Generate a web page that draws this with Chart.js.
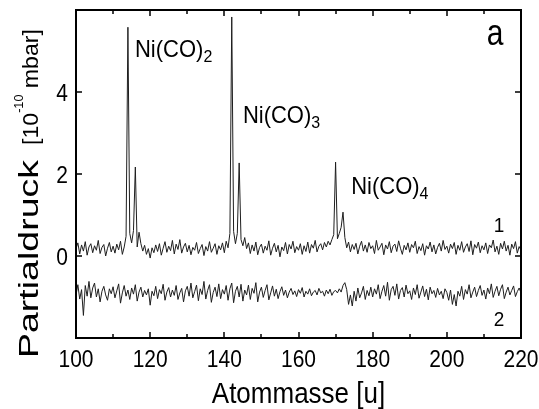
<!DOCTYPE html>
<html>
<head>
<meta charset="utf-8">
<script src="https://cdn.jsdelivr.net/npm/chart.js@4.4.1/dist/chart.umd.min.js"></script>
<style>
  html, body { margin: 0; padding: 0; background: #fff; }
  #wrap { width: 539px; height: 409px; position: relative; }
</style>
</head>
<body>
<div id="wrap"><canvas id="chart"></canvas></div>
<script>
"use strict";

// ── Data ─────────────────────────────────────────────────────────────────────
// Mass spectra, sampled every 0.5 u from 100 to 220 u. Values in 1e-10 mbar.
const MASS_START = 100;
const MASS_STEP = 0.5;

// trace 1: with Ni(CO)x peaks
const SERIES_1 = [
  0.18,0.32,0.05,0.27,0.12,0.35,0.02,0.22,0.30,0.08,0.25,0.14,0.38,0.06,0.21,0.28,0.00,0.19,0.33,0.10,
  0.24,0.07,0.29,0.15,0.36,0.04,0.22,0.48,5.58,0.55,0.32,0.62,2.17,0.22,0.58,0.30,0.12,0.26,0.04,0.18,
  -0.05,0.20,0.08,0.27,0.11,0.30,0.02,0.19,0.35,0.09,0.24,0.13,0.38,0.05,0.29,0.16,0.40,0.07,0.22,0.31,
  0.10,0.26,0.03,0.21,0.14,0.33,0.06,0.18,0.28,0.01,0.23,0.12,0.35,0.09,0.19,0.30,0.04,0.25,0.15,0.32,
  0.08,0.36,0.20,0.55,5.83,0.60,0.30,0.55,2.27,0.40,0.25,0.45,0.18,0.32,0.06,0.27,0.12,0.34,0.03,0.21,
  0.29,0.07,0.24,0.14,0.37,0.02,0.19,0.31,0.10,0.26,-0.02,0.22,0.13,0.33,0.05,0.28,0.17,0.36,0.08,0.23,
  0.14,0.30,0.04,0.25,0.11,0.34,0.07,0.28,0.19,0.38,0.10,0.24,0.30,0.15,0.33,0.22,0.36,0.27,0.40,0.52,
  2.29,0.42,0.55,0.70,1.07,0.45,0.20,0.34,0.10,0.28,0.16,0.31,0.05,0.24,0.36,0.12,0.27,0.09,0.33,0.18,
  0.25,0.06,0.38,0.14,0.22,0.31,0.03,0.27,0.17,0.35,0.08,0.24,0.29,0.11,0.37,0.19,0.04,0.26,0.15,0.32,
  0.09,0.28,0.20,0.36,0.06,0.23,0.13,0.30,0.02,0.25,0.17,0.34,0.10,0.27,0.05,0.21,0.31,0.12,0.38,0.16,
  0.24,0.07,0.29,0.18,0.33,0.04,0.26,0.14,0.35,0.09,0.22,0.30,0.11,0.37,0.03,0.28,0.19,0.34,0.08,0.25,
  0.15,0.32,0.06,0.27,0.20,0.39,0.10,0.24,0.04,0.31,0.17,0.36,0.12,0.26,0.02,0.29,0.18,0.35,0.07,0.23,
  0.14
];

// trace 2: background
const SERIES_2 = [
  -0.95,-0.70,-1.05,-0.82,-1.45,-0.72,-0.98,-0.62,-1.02,-0.78,-0.66,-1.00,-0.80,-1.12,-0.86,-0.74,-0.95,-1.08,-0.80,-0.92,
  -0.75,-1.02,-0.85,-0.68,-1.15,-0.90,-0.72,-0.98,-0.83,-1.06,-0.78,-0.93,-0.70,-1.10,-0.88,-0.76,-1.00,-0.84,-0.95,-0.80,
  -1.20,-0.86,-0.97,-0.74,-1.04,-0.82,-0.92,-0.69,-1.08,-0.88,-0.77,-1.00,-0.83,-0.96,-0.72,-1.06,-0.90,-0.79,-1.12,-0.85,
  -0.74,-0.98,-0.66,-1.02,-0.87,-0.71,-1.09,-0.80,-0.94,-0.62,-1.05,-0.84,-0.70,-1.13,-0.89,-0.76,-0.99,-0.68,-1.04,-0.82,
  -0.93,-0.72,-1.08,-0.80,-0.66,-1.14,-0.86,-0.74,-1.00,-0.69,-1.10,-0.83,-0.95,-0.71,-1.06,-0.79,-0.91,-0.65,-1.12,-0.88,
  -0.76,-1.01,-0.84,-0.70,-1.07,-0.90,-0.73,-0.98,-0.81,-1.04,-0.87,-0.75,-0.96,-0.83,-1.02,-0.88,-0.79,-0.94,-0.85,-0.99,
  -0.82,-0.91,-0.77,-1.00,-0.86,-0.93,-0.80,-0.97,-0.88,-0.84,-0.95,-0.79,-0.90,-0.86,-0.98,-0.83,-0.92,-0.81,-0.96,-0.87,
  -0.84,-0.90,-0.80,-0.88,-0.72,-0.65,-0.82,-1.18,-0.95,-1.22,-0.86,-1.10,-0.78,-1.02,-0.90,-0.74,-1.06,-0.84,-0.97,-0.76,
  -1.00,-0.80,-0.93,-0.70,-1.04,-0.86,-0.72,-0.98,-0.64,-1.08,-0.82,-0.74,-0.96,-0.68,-1.05,-0.84,-0.77,-1.00,-0.71,-0.92,
  -0.85,-1.06,-0.78,-0.94,-0.70,-1.03,-0.88,-0.73,-0.99,-0.81,-1.07,-0.76,-0.92,-0.84,-1.01,-0.79,-0.95,-0.86,-1.04,-0.80,
  -0.89,-1.08,-0.83,-1.18,-0.94,-1.22,-0.86,-0.98,-0.74,-1.06,-0.82,-0.93,-0.70,-1.02,-0.88,-0.76,-0.99,-0.84,-0.72,-0.96,
  -0.83,-1.05,-0.78,-0.92,-0.68,-1.01,-0.86,-0.74,-0.97,-0.81,-0.70,-1.04,-0.88,-0.76,-0.95,-0.84,-0.73,-0.99,-0.87,-0.78,
  -0.90
];

const X_TICKS = [100, 120, 140, 160, 180, 200, 220];
const X_MINOR = [110, 130, 150, 170, 190, 210];
const Y_TICKS = [0, 2, 4];

const PEAK_NAMES = ["Ni(CO)", "Ni(CO)", "Ni(CO)"];
const PEAK_SUBS = ["2", "3", "4"];
const TRACE_NAMES = ["1", "2"];
const PANEL = "a";

// ── Helpers ──────────────────────────────────────────────────────────────────

const FONT = '"Liberation Sans", Arial, Helvetica, sans-serif';
const toPoints = arr => arr.map((v, i) => ({ x: MASS_START + i * MASS_STEP, y: v }));

function drawText(ctx, str, x, y, px, align, sy) {
  ctx.save();
  ctx.translate(x, y);
  ctx.scale(1, sy || 1);
  ctx.font = `${px}px ${FONT}`;
  ctx.textAlign = align || "left";
  ctx.textBaseline = "alphabetic";
  ctx.fillText(str, 0, 0);
  ctx.restore();
}

// frame, inward ticks and all lettering
const decor = {
  id: "decor",
  afterDraw(chart) {
    const { ctx, chartArea: a, scales: { x, y } } = chart;
    ctx.save();
    ctx.fillStyle = "#000";
    ctx.strokeStyle = "#000";

    // frame
    ctx.lineWidth = 2;
    ctx.strokeRect(a.left, a.top, a.right - a.left, a.bottom - a.top);

    // ticks (pointing inwards, on all four sides)
    ctx.lineWidth = 1.5;
    ctx.beginPath();
    const tickX = (v, len) => {
      const px = Math.round(x.getPixelForValue(v));
      ctx.moveTo(px, a.bottom); ctx.lineTo(px, a.bottom - len);
      ctx.moveTo(px, a.top);    ctx.lineTo(px, a.top + len);
    };
    X_TICKS.forEach(v => tickX(v, 6));
    X_MINOR.forEach(v => tickX(v, 4));
    Y_TICKS.forEach(v => {
      const py = Math.round(y.getPixelForValue(v));
      ctx.moveTo(a.left, py);  ctx.lineTo(a.left + 6, py);
      ctx.moveTo(a.right, py); ctx.lineTo(a.right - 6, py);
    });
    ctx.stroke();

    // tick labels
    X_TICKS.forEach(v => drawText(ctx, String(v), x.getPixelForValue(v), a.bottom + 29, 21, "center", 1.1));
    Y_TICKS.forEach(v => drawText(ctx, String(v), a.left - 8, y.getPixelForValue(v) + 8.5, 21, "right", 1.1));

    // x title
    drawText(ctx, "Atommasse [u]", (a.left + a.right) / 2, 403, 26, "center", 1.13);

    // y title, rotated, with superscript exponent
    ctx.save();
    ctx.translate(38, 358);
    ctx.rotate(-Math.PI / 2);
    ctx.textBaseline = "alphabetic";
    ctx.textAlign = "left";
    ctx.font = `27px ${FONT}`;
    const w1 = ctx.measureText("Partialdruck").width;
    ctx.save();
    ctx.scale(198 / w1, 1);
    ctx.fillText("Partialdruck", 0, 0);
    ctx.restore();
    ctx.translate(213, 0);
    ctx.font = `22px ${FONT}`;
    const wa = ctx.measureText("[10").width;
    const wc = ctx.measureText(" mbar]").width;
    ctx.font = `12px ${FONT}`;
    const wb = ctx.measureText("-10").width;
    ctx.scale(116 / (wa + wb + wc), 1);
    ctx.font = `22px ${FONT}`;
    ctx.fillText("[10", 0, 0);
    ctx.font = `12px ${FONT}`;
    ctx.fillText("-10", wa, -15);
    ctx.font = `22px ${FONT}`;
    ctx.fillText(" mbar]", wa + wb, 0);
    ctx.restore();

    // peak labels with subscripts
    const peakAt = [[115.9, 4.85], [145.0, 3.24], [174.2, 1.51]];
    PEAK_NAMES.forEach((name, i) => {
      const px = x.getPixelForValue(peakAt[i][0]);
      const py = y.getPixelForValue(peakAt[i][1]);
      ctx.font = `22px ${FONT}`;
      const w = ctx.measureText(name).width;
      drawText(ctx, name, px, py, 22, "left", 1.08);
      drawText(ctx, PEAK_SUBS[i], px + w, py + 5, 16, "left", 1.05);
    });

    // trace numbers and panel letter
    const traceAt = [[214.1, 0.585], [214.1, -1.71]];
    TRACE_NAMES.forEach((t, i) =>
      drawText(ctx, t, x.getPixelForValue(traceAt[i][0]), y.getPixelForValue(traceAt[i][1]), 19, "center", 1.1));
    drawText(ctx, PANEL, x.getPixelForValue(213), y.getPixelForValue(5.15), 30, "center", 1.2);

    ctx.restore();
  },
};

// ── Chart ────────────────────────────────────────────────────────────────────

const lineStyle = { borderColor: "#1e1e1e", borderWidth: 1, pointRadius: 0, tension: 0, fill: false };

new Chart(document.getElementById("chart"), {
  type: "line",
  data: {
    datasets: [
      { label: "1", data: toPoints(SERIES_1), ...lineStyle },
      { label: "2", data: toPoints(SERIES_2), ...lineStyle },
    ],
  },
  options: {
    responsive: true,
    maintainAspectRatio: false,
    animation: false,
    layout: { padding: { left: 76, top: 10, right: 18, bottom: 71 } },
    plugins: { legend: { display: false }, tooltip: { enabled: false } },
    scales: {
      x: { type: "linear", min: 100, max: 220, display: false },
      y: { type: "linear", min: -2, max: 6, display: false },
    },
  },
  plugins: [decor],
});
</script>
</body>
</html>
